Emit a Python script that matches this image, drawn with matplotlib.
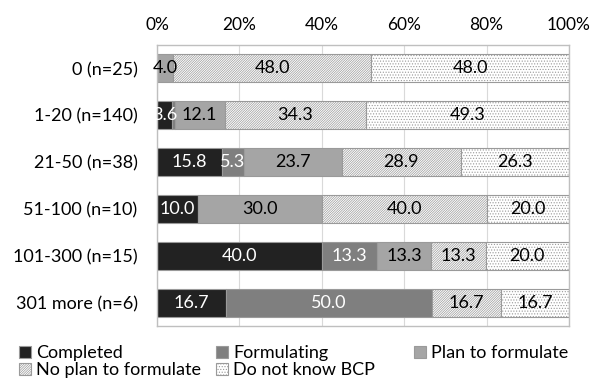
#!/usr/bin/env python3
"""Stacked horizontal bars of BCP status by company size."""

import numpy as np
import matplotlib.pyplot as plt

plt.rcParams['font.family'] = ['Lato', 'DejaVu Sans']
plt.rcParams['hatch.linewidth'] = 0.5

groups = ['0 (n=25)', '1-20 (n=140)', '21-50 (n=38)', '51-100 (n=10)',
          '101-300 (n=15)', '301 more (n=6)']
series = ['Completed', 'Formulating', 'Plan to formulate',
          'No plan to formulate', 'Do not know BCP']
completed = [0.0, 3.6, 15.8, 10.0, 40.0, 16.7]
formulating = [0.0, 0.7, 5.3, 0.0, 13.3, 50.0]
plan = [4.0, 12.1, 23.7, 30.0, 13.3, 0.0]
no_plan = [48.0, 34.3, 28.9, 40.0, 13.3, 16.7]
unknown = [48.0, 49.3, 26.3, 20.0, 20.0, 16.7]
ticks = [0, 20, 40, 60, 80, 100]

values = [completed, formulating, plan, no_plan, unknown]
faces = ['#222222', '#7f7f7f', '#a5a5a5', 'white', 'white']
hatches = [None, None, None, '/' * 14, '.' * 6]
text_colors = ['white', 'white', 'black', 'black', 'black']

fig = plt.figure(figsize=(6.03, 3.85), dpi=100)
ax = fig.add_axes([0.2604, 0.1532, 0.6832, 0.7299])

y = np.arange(len(groups))
left = np.zeros(len(groups))
handles = []
for name, vals, fc, ht, tc in zip(series, values, faces, hatches, text_colors):
    vals = np.array(vals)
    bars = ax.barh(y, vals, left=left, height=0.6, color=fc, hatch=ht,
                   edgecolor='#9a9a9a', linewidth=0.8, label=name, zorder=2)
    handles.append(bars)
    for b, v in zip(bars, vals):
        if v >= 3:
            ax.text(b.get_x() + b.get_width() / 2, b.get_y() + b.get_height() / 2,
                    f'{v:.1f}', ha='center', va='center', color=tc,
                    fontsize=13, zorder=3)
    left += vals

ax.set_xlim(0, 100)
ax.set_ylim(len(groups) - 0.5, -0.5)
ax.set_xticks(ticks)
ax.set_xticklabels([f'{t}%' for t in ticks])
ax.xaxis.tick_top()
ax.set_yticks(y)
ax.set_yticklabels(groups)
ax.tick_params(axis='x', length=0, labelsize=12.5, pad=9)
ax.tick_params(axis='y', length=0, labelsize=13, pad=14)
ax.grid(axis='x', color='#d9d9d9', linewidth=0.8, zorder=0)
for s in ax.spines.values():
    s.set_color('#bfbfbf')
    s.set_linewidth(1.0)

# legend laid out row by row in three fixed columns
columns = [[0, 3], [1, 4], [2]]
col_x = [0.0315, 0.358, 0.687]
for idx, x in zip(columns, col_x):
    leg = fig.legend([handles[i] for i in idx], [series[i] for i in idx],
                     loc='upper left', bbox_to_anchor=(x, 0.103), ncol=1,
                     frameon=False, fontsize=13, handlelength=0.65,
                     handleheight=0.65, handletextpad=0.3, labelspacing=0.05,
                     borderaxespad=0, borderpad=0)

fig.savefig('out.png', dpi=100)
